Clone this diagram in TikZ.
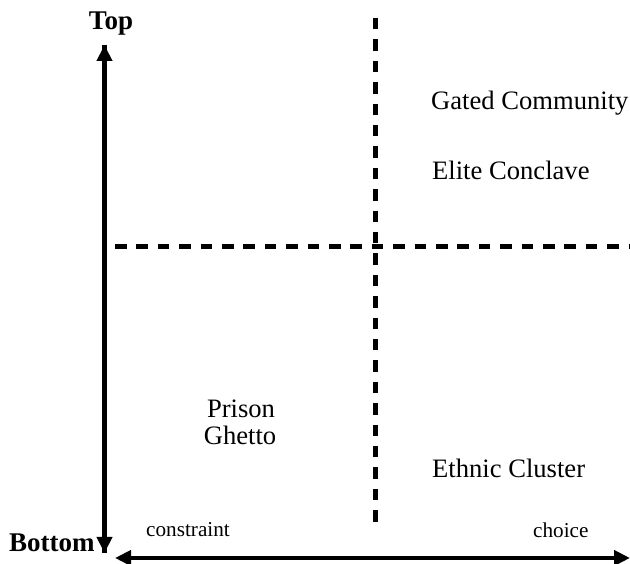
\documentclass[tikz,border=0pt]{standalone}
\usepackage{fontspec}
\setmainfont{Liberation Serif}
\usetikzlibrary{arrows.meta}
\begin{document}
\begin{tikzpicture}[x=1pt,y=1pt,
  axis/.style={line width=4.5pt,-{Triangle[length=16pt,width=15pt]}},
  axis2/.style={line width=4.5pt,{Triangle[length=16pt,width=15pt]}-{Triangle[length=16pt,width=15pt]}},
  divider/.style={line width=5pt,dash pattern=on 11.5pt off 9.9pt},
  lab/.style={inner sep=0pt,font=\fontsize{26.6}{30}\selectfont},
  small/.style={inner sep=0pt,font=\fontsize{21.2}{24}\selectfont},
  boldlab/.style={inner sep=0pt,font=\fontsize{27}{30}\selectfont\bfseries}]
\useasboundingbox (0,0) rectangle (630,564);
% axes end points
\coordinate (vtop) at (104.5,{564-45});
\coordinate (vbot) at (104.5,{564-553});
\coordinate (hleft) at (115,{564-558});
\coordinate (hright) at (630,{564-558});
\draw[axis] (vbot) -- (vtop);
\draw[axis] (vtop) -- (vbot);
\draw[axis2] (hleft) -- (hright);
% dividers
\coordinate (dvt) at (375.5,{564-18});
\coordinate (dvb) at (375.5,{564-522});
\coordinate (dhl) at (115,{564-247});
\coordinate (dhr) at (632,{564-247});
\draw[divider] (dvt) -- (dvb);
\draw[divider] (dhl) -- (dhr);
% labels
\node[boldlab,anchor=base] (top) at (111,{564-30}) {Top};
\node[boldlab,anchor=base west] (bottom) at (9,{564-552}) {Bottom};
\node[lab,anchor=base west] (gated) at (431,{564-110}) {Gated Community};
\node[lab,anchor=base west] (elite) at (432,{564-180}) {Elite Conclave};
\node[lab,anchor=base west] (ethnic) at (432,{564-478}) {Ethnic Cluster};
\node[lab,anchor=base] (prison) at (241,{564-418}) {Prison};
\node[lab,anchor=base] (ghetto) at (240,{564-445}) {Ghetto};
\node[small,anchor=base west] (constraint) at (146,{564-537}) {constraint};
\node[small,anchor=base west] (choice) at (533,{564-538}) {choice};
\end{tikzpicture}
\end{document}
